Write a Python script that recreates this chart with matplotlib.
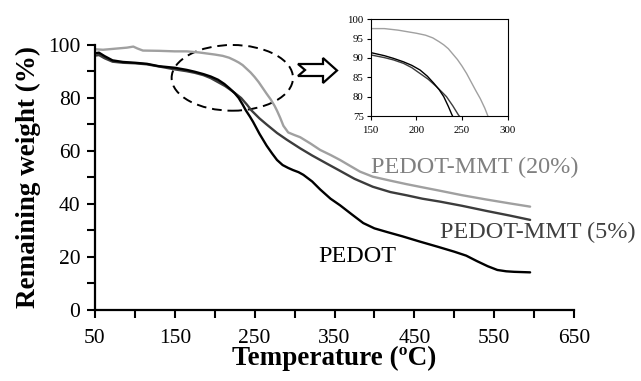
import matplotlib
matplotlib.use("Agg")
import matplotlib.pyplot as plt
from matplotlib.patches import Ellipse, Polygon
from matplotlib.ticker import MultipleLocator

plt.rcParams["font.family"] = ["Liberation Serif", "DejaVu Serif"]

# TGA curves: temperature (°C) and remaining weight (%)
pedot_t = [50, 55, 62, 72, 85, 100, 115, 130, 150, 165, 175, 186, 195, 204, 212,
           219, 225, 230, 235, 239, 244, 248, 256, 265, 272, 278, 285, 292, 298,
           305, 311, 322, 332, 345, 357, 372, 386, 400, 416, 435, 457, 480, 500,
           515, 528, 542, 554, 565, 575, 585, 595]
pedot_w = [96.9, 97.1, 95.8, 94.2, 93.6, 93.3, 92.9, 92.0, 91.4, 90.6, 89.9, 89.0,
           88.1, 86.9, 85.3, 83.5, 81.8, 80.0, 77.5, 75.3, 73.0, 71.0, 66.5, 62.0,
           59.0, 56.6, 54.7, 53.6, 52.8, 52.0, 51.0, 48.5, 45.5, 42.0, 39.5, 36.0,
           32.8, 30.8, 29.4, 27.8, 25.8, 23.8, 22.0, 20.5, 18.5, 16.5, 15.1, 14.6,
           14.4, 14.3, 14.2]

mmt5_t = [50, 55, 62, 72, 85, 100, 115, 130, 150, 165, 175, 186, 195, 204, 213,
          222, 228, 233, 240, 246, 256, 265, 278, 290, 307, 322, 340, 357, 375,
          398, 420, 440, 460, 482, 510, 540, 570, 595]
mmt5_w = [96.0, 96.2, 95.0, 93.7, 93.3, 93.1, 92.7, 91.9, 90.8, 90.1, 89.5, 88.6,
          87.5, 86.0, 84.5, 82.6, 81.2, 80.0, 77.6, 75.3, 72.3, 70.0, 66.8, 64.3,
          61.0, 58.3, 55.3, 52.5, 49.5, 46.5, 44.5, 43.3, 42.0, 40.9, 39.3, 37.4,
          35.6, 34.0]

mmt20_t = [50, 60, 75, 90, 98, 103, 110, 130, 150, 165, 180, 190, 200, 210, 218,
           225, 230, 235, 240, 245, 250, 255, 260, 265, 270, 275, 278, 282, 286,
           292, 300, 307, 320, 332, 345, 357, 370, 382, 398, 420, 440, 460, 482,
           510, 540, 570, 595]
mmt20_w = [98.4, 98.2, 98.6, 99.0, 99.4, 98.7, 97.9, 97.8, 97.6, 97.6, 97.2, 96.8,
           96.4, 95.9, 95.2, 94.2, 93.4, 92.4, 91.0, 89.6, 87.9, 86.0, 83.8, 81.6,
           79.5, 77.0, 75.2, 72.5, 69.5, 67.0, 66.0, 65.2, 62.8, 60.4, 58.5, 56.6,
           54.3, 52.2, 50.3, 48.8, 47.5, 46.3, 45.0, 43.3, 41.7, 40.2, 39.0]

x_ticks = [50, 150, 250, 350, 450, 550, 650]
y_ticks = [0, 20, 40, 60, 80, 100]
inset_x_ticks = [150, 200, 250, 300]
inset_y_ticks = [75, 80, 85, 90, 95, 100]

c_pedot = "#000000"
c_mmt5 = "#3c3c3c"
c_mmt20 = "#a0a0a0"

fig = plt.figure(figsize=(6.41, 3.81), dpi=100)
ax = fig.add_axes([0.1482, 0.1864, 0.7473, 0.6955])

line_kw = dict(lw=1.7, solid_joinstyle="round", solid_capstyle="round")
ax.plot(mmt20_t, mmt20_w, color=c_mmt20, **line_kw)
ax.plot(mmt5_t, mmt5_w, color=c_mmt5, **line_kw)
ax.plot(pedot_t, pedot_w, color=c_pedot, **line_kw)

ax.set_xlim(50, 650)
ax.set_ylim(0, 100)
ax.set_xticks(x_ticks)
ax.set_yticks(y_ticks)
ax.xaxis.set_minor_locator(MultipleLocator(50))
ax.yaxis.set_minor_locator(MultipleLocator(10))
for s in ("top", "right"):
    ax.spines[s].set_visible(False)
for s in ("left", "bottom"):
    ax.spines[s].set_linewidth(1.6)
ax.tick_params(which="both", direction="out", length=5.5, width=1.5,
               labelsize=15.5, pad=5)
ax.tick_params(axis="x", pad=8)
ax.set_xlabel("Temperature (ºC)", fontsize=19.5, fontweight="bold", labelpad=-1)
ax.set_ylabel("Remaining weight (%)", fontsize=19.5, fontweight="bold", labelpad=5)

# Series labels
ax.text(525, 51.6, "PEDOT-MMT (20%)", color="#808080", fontsize=17.4,
        ha="center", va="baseline", clip_on=False)
ax.text(605, 27.0, "PEDOT-MMT (5%)", color="#404040", fontsize=17.4,
        ha="center", va="baseline", clip_on=False)
ax.text(379, 18.2, "PEDOT", color="#000000", fontsize=17.4,
        ha="center", va="baseline", clip_on=False)

# Dashed ellipse marking the zoomed region
ax.add_patch(Ellipse((222, 87.6), 152, 24.8, fill=False, edgecolor="black",
                     lw=1.4, linestyle=(0, (5, 3)), clip_on=False))

# Outlined arrow pointing to the inset
W, H = 641.0, 381.0
arrow_px = [(298, 64), (323, 64), (323, 58), (337, 70.5), (323, 83),
            (323, 76), (298, 76), (305, 70)]
arrow = Polygon([(x / W, 1 - y / H) for x, y in arrow_px], closed=True,
                facecolor="white", edgecolor="black", lw=1.6,
                transform=fig.transFigure)
fig.add_artist(arrow)

# Inset: close-up of the onset of degradation
axi = fig.add_axes([0.5783, 0.6955, 0.2137, 0.2538])
inset_kw = dict(lw=1.0, solid_joinstyle="round")
axi.plot(mmt20_t, mmt20_w, color=c_mmt20, **inset_kw)
axi.plot(mmt5_t, mmt5_w, color=c_mmt5, **inset_kw)
axi.plot(pedot_t, pedot_w, color=c_pedot, **inset_kw)
axi.set_xlim(150, 300)
axi.set_ylim(75, 100)
axi.set_xticks(inset_x_ticks)
axi.set_yticks(inset_y_ticks)
for s in axi.spines.values():
    s.set_linewidth(0.8)
axi.tick_params(direction="out", length=3, width=0.8, labelsize=7.8, pad=2)
axi.tick_params(axis="x", pad=4)

fig.savefig("out.png", dpi=100)
